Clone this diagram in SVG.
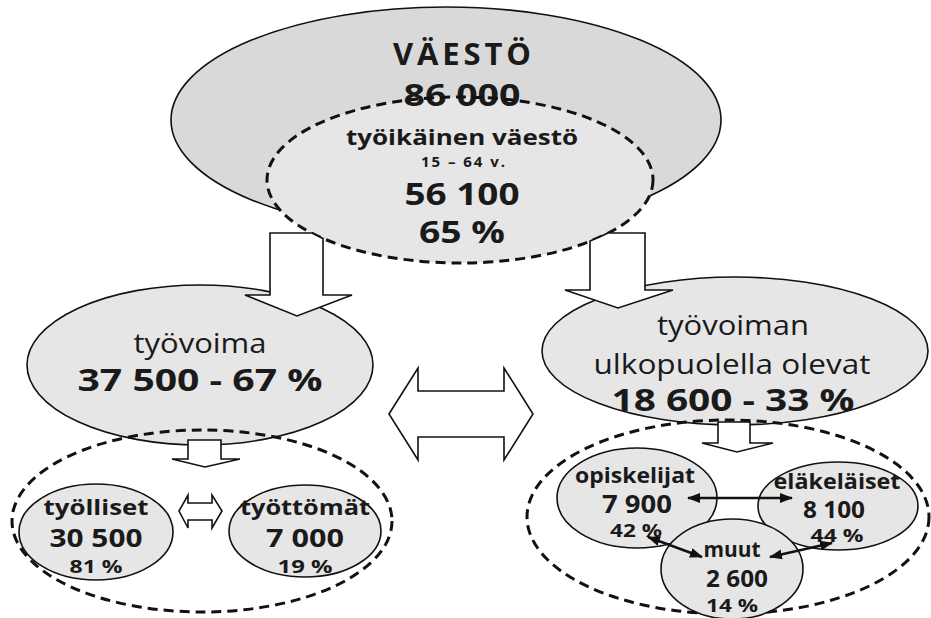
<svg xmlns="http://www.w3.org/2000/svg" width="931" height="618" viewBox="0 0 931 618">
<defs>
<style>
.t{font-family:"Open Sans","DejaVu Sans","Liberation Sans",sans-serif;fill:#1a1a1a;text-anchor:middle}
.b{font-weight:bold}
.n{font-weight:normal}
.g1{fill:#d9d9d9;stroke:#111;stroke-width:1.6}
.g2{fill:#e6e6e6;stroke:#111;stroke-width:1.6}
.dash{fill:none;stroke:#111;stroke-width:3;stroke-dasharray:10 6}
.ar{fill:#fff;stroke:#111;stroke-width:1.6;stroke-linejoin:miter}
.thin{stroke:#111;stroke-width:2.4;fill:none;marker-start:url(#ah);marker-end:url(#ah)}
</style>
<marker id="ah" markerUnits="userSpaceOnUse" markerWidth="13" markerHeight="10" refX="12" refY="5" orient="auto-start-reverse" viewBox="0 0 13 10">
<path d="M0,0 L13,5 L0,10 Z" fill="#111"/>
</marker>
</defs>
<rect width="931" height="618" fill="#fff"/>

<g id="tyovoima">
<ellipse class="g2" cx="200" cy="365" rx="173" ry="80"/>
<text class="t n" x="200" y="353" font-size="27" textLength="133" lengthAdjust="spacingAndGlyphs">työvoima</text>
<text class="t b" x="200" y="391" font-size="31" textLength="245" lengthAdjust="spacingAndGlyphs">37 500 - 67 %</text>
</g>

<g id="ulkopuolella">
<ellipse class="g2" cx="735" cy="351" rx="193" ry="74"/>
<text class="t n" x="733" y="335" font-size="27" textLength="152" lengthAdjust="spacingAndGlyphs">työvoiman</text>
<text class="t n" x="732" y="374" font-size="27" textLength="277" lengthAdjust="spacingAndGlyphs">ulkopuolella olevat</text>
<text class="t b" x="733" y="411" font-size="30" textLength="243" lengthAdjust="spacingAndGlyphs">18 600 - 33 %</text>
</g>

<g id="vaesto">
<ellipse class="g1" cx="446" cy="120" rx="275" ry="113"/>
<ellipse cx="460" cy="180" rx="193" ry="83" fill="#e6e6e6"/>
<text class="t b" x="462" y="65" font-size="31" textLength="138" lengthAdjust="spacing">VÄESTÖ</text>
<text class="t b" x="462" y="106" font-size="31" textLength="117" lengthAdjust="spacingAndGlyphs">86 000</text>
</g>

<g id="tyoikainen">
<ellipse class="dash" cx="460" cy="180" rx="193" ry="83"/>
<text class="t b" x="462" y="145" font-size="21" textLength="232" lengthAdjust="spacingAndGlyphs">työikäinen väestö</text>
<text class="t b" x="463" y="167" font-size="15" textLength="84" lengthAdjust="spacing">15 – 64 v.</text>
<text class="t b" x="462" y="205" font-size="31" textLength="115" lengthAdjust="spacingAndGlyphs">56 100</text>
<text class="t b" x="462" y="243" font-size="31" textLength="86" lengthAdjust="spacingAndGlyphs">65 %</text>
</g>

<g id="ryhma-tyovoima">
<ellipse class="dash" cx="202" cy="521" rx="190" ry="91"/>
</g>
<g id="ryhma-ulkopuolella">
<ellipse class="dash" cx="728" cy="517" rx="201" ry="97"/>
</g>

<g id="tyolliset">
<ellipse class="g2" cx="96" cy="532" rx="77" ry="48"/>
<text class="t b" x="96" y="515" font-size="22" textLength="105" lengthAdjust="spacingAndGlyphs">työlliset</text>
<text class="t b" x="96" y="547" font-size="25" textLength="93" lengthAdjust="spacingAndGlyphs">30 500</text>
<text class="t b" x="96" y="573" font-size="17" textLength="53" lengthAdjust="spacingAndGlyphs">81 %</text>
</g>

<g id="tyottomat">
<ellipse class="g2" cx="305" cy="531" rx="76" ry="46"/>
<text class="t b" x="305" y="515" font-size="22" textLength="130" lengthAdjust="spacingAndGlyphs">työttömät</text>
<text class="t b" x="305" y="547" font-size="25" textLength="78" lengthAdjust="spacingAndGlyphs">7 000</text>
<text class="t b" x="305" y="573" font-size="17" textLength="55" lengthAdjust="spacingAndGlyphs">19 %</text>
</g>

<g id="opiskelijat">
<ellipse class="g2" cx="637" cy="498" rx="80" ry="50"/>
<text class="t b" x="635" y="483" font-size="21" textLength="120" lengthAdjust="spacingAndGlyphs">opiskelijat</text>
<text class="t b" x="637" y="513" font-size="25" textLength="70" lengthAdjust="spacingAndGlyphs">7 900</text>
<text class="t b" x="636" y="537" font-size="18" textLength="52" lengthAdjust="spacingAndGlyphs">42 %</text>
</g>

<g id="elakelaiset">
<ellipse class="g2" cx="838" cy="506" rx="80" ry="44"/>
<text class="t b" x="837" y="489" font-size="21" textLength="127" lengthAdjust="spacingAndGlyphs">eläkeläiset</text>
<text class="t b" x="834" y="518" font-size="24" textLength="62" lengthAdjust="spacingAndGlyphs">8 100</text>
<text class="t b" x="837" y="542" font-size="18" textLength="53" lengthAdjust="spacingAndGlyphs">44 %</text>
</g>

<g id="muut">
<ellipse class="g2" cx="732" cy="569" rx="71" ry="50"/>
<text class="t b" x="732" y="557" font-size="22" textLength="57" lengthAdjust="spacingAndGlyphs">muut</text>
<text class="t b" x="737" y="587" font-size="24" textLength="62" lengthAdjust="spacingAndGlyphs">2 600</text>
<text class="t b" x="732" y="612" font-size="18" textLength="52" lengthAdjust="spacingAndGlyphs">14 %</text>
</g>

<g id="connectors">
<path class="ar" d="M270,233 L312,233 A193,83 0 0 0 323,238.5 L323,295 L352,295 L297,316 L245,295 L270,295 Z"/>
<path class="ar" d="M590,241 A193,83 0 0 0 608,233 L645,233 L645,290 L673,290 L618,308 L565,290 L590,290 Z"/>
<path class="ar" d="M389,414 L418,368 L418,391 L504,391 L504,368 L533,414 L504,460 L504,437 L418,437 L418,460 Z"/>
<path class="ar" d="M188,440 L221,440 L221,459 L240,459 L205,467 L172,459 L188,459 Z"/>
<path class="ar" d="M718,422 L750,422 L750,443 L773,443 L737,452 L702,443 L718,443 Z"/>
<path class="ar" d="M179,511 L188,495 L188,503 L212,503 L212,495 L222,511 L212,528 L212,520 L188,520 L188,528 Z"/>
<line class="thin" x1="688" y1="498" x2="792" y2="498"/>
<line class="thin" x1="648" y1="537" x2="702" y2="557"/>
<line class="thin" x1="832" y1="543" x2="770" y2="557"/>
</g>
</svg>
